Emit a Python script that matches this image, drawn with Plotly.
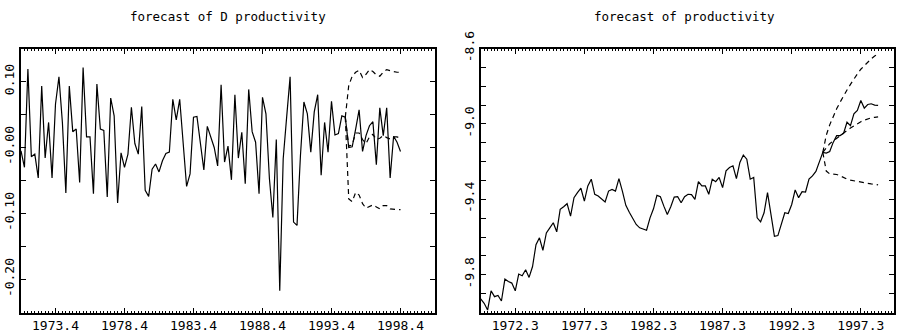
import plotly.graph_objects as go

# ---------------- data ----------------
left_start = (1971, 2)   # first quarter of D productivity series
right_start = (1970, 1)  # first quarter of productivity series
fc_start_period = (1994, 4)

left_actual = [
    -0.005, -0.030, 0.119, -0.014, -0.010, -0.046, 0.093, -0.016, 0.038, -0.046,
    0.066, 0.107, 0.038, -0.069, 0.093, 0.024, 0.028, -0.053, 0.121, 0.016,
    0.016, -0.070, 0.096, 0.028, 0.026, -0.075, 0.075, 0.048, -0.084, -0.008,
    -0.030, -0.010, 0.061, 0.006, -0.010, 0.062, -0.065, -0.074, -0.033, -0.025,
    -0.037, -0.020, -0.009, -0.007, 0.073, 0.042, 0.073, 0.008, -0.059, -0.040,
    0.046, 0.047, 0.003, -0.034, 0.032, 0.016, 0.000, -0.028, 0.095, -0.022,
    0.002, -0.049, 0.080, -0.016, 0.023, -0.055, 0.088, 0.024, 0.008, -0.070,
    0.076, 0.051, -0.047, -0.106, 0.012, -0.217, -0.017, 0.046, 0.107, -0.113,
    -0.118, -0.012, 0.069, 0.051, -0.007, 0.054, 0.080, -0.042, 0.038, -0.007,
    0.070, 0.019, 0.021, 0.048, 0.046, 0.000, 0.001, 0.028, 0.057, -0.006,
    0.018, 0.033, 0.039, -0.026, 0.060, 0.018, 0.060, -0.046, 0.017, 0.008,
    -0.006,
]
left_fc_mid = [0.046, 0.002, 0.004, 0.022, 0.022, 0.012, 0.006, 0.016, 0.020,
               0.012, 0.014, 0.018, 0.015, 0.013, 0.016, 0.016, 0.014]
left_fc_up = [0.046, 0.094, 0.108, 0.114, 0.117, 0.106, 0.111, 0.118, 0.115,
              0.110, 0.108, 0.114, 0.118, 0.116, 0.115, 0.114, 0.114]
left_fc_lo = [0.046, -0.078, -0.082, -0.068, -0.072, -0.085, -0.092, -0.090, -0.087,
              -0.090, -0.093, -0.088, -0.088, -0.093, -0.094, -0.094, -0.094]

right_actual = [
    -9.928, -9.951, -9.987, -9.885, -9.916, -9.910, -9.939, -9.823, -9.836, -9.844,
    -9.885, -9.796, -9.805, -9.773, -9.814, -9.756, -9.640, -9.604, -9.670, -9.578,
    -9.551, -9.524, -9.572, -9.453, -9.439, -9.423, -9.489, -9.391, -9.364, -9.341,
    -9.409, -9.329, -9.293, -9.373, -9.382, -9.400, -9.414, -9.356, -9.347, -9.356,
    -9.290, -9.356, -9.432, -9.468, -9.498, -9.533, -9.551, -9.556, -9.564, -9.498,
    -9.450, -9.379, -9.386, -9.436, -9.480, -9.439, -9.388, -9.386, -9.418, -9.386,
    -9.373, -9.375, -9.400, -9.306, -9.329, -9.329, -9.373, -9.293, -9.306, -9.284,
    -9.338, -9.249, -9.231, -9.222, -9.290, -9.204, -9.165, -9.187, -9.293, -9.284,
    -9.498, -9.519, -9.471, -9.364, -9.480, -9.596, -9.592, -9.524, -9.471, -9.475,
    -9.427, -9.350, -9.391, -9.359, -9.361, -9.293, -9.276, -9.252, -9.204, -9.151,
    -9.155, -9.146, -9.098, -9.062, -9.062, -9.050, -8.991, -9.009, -8.947, -8.929,
    -8.876, -8.916, -8.897, -8.893, -8.900, -8.902,
]
right_fc_mid = [-9.151, -9.125, -9.105, -9.090, -9.075, -9.060, -9.047, -9.035, -9.022,
                -9.010, -8.998, -8.988, -8.980, -8.973, -8.968, -8.965, -8.963]
right_fc_up = [-9.151, -9.060, -9.005, -8.960, -8.920, -8.885, -8.850, -8.820, -8.790,
               -8.760, -8.735, -8.710, -8.690, -8.670, -8.655, -8.640, -8.630]
right_fc_lo = [-9.151, -9.250, -9.265, -9.266, -9.268, -9.275, -9.285, -9.293, -9.298,
               -9.302, -9.305, -9.308, -9.312, -9.315, -9.318, -9.321, -9.323]

left_ticklabels = ["1973.4", "1978.4", "1983.4", "1988.4", "1993.4", "1998.4"]
right_ticklabels = ["1972.3", "1977.3", "1982.3", "1987.3", "1992.3", "1997.3"]
left_ylabels = ["-0.20", "-0.10", "-0.00", "0.10"]
right_ylabels = ["-9.8", "-9.4", "-9.0", "-8.6"]


def qtime(year, q):
    return year + (q - 1) / 4.0


def label_time(lbl):
    y, q = lbl.split(".")
    return qtime(int(y), int(q))


def periods(start, n):
    t0 = qtime(*start)
    return [t0 + 0.25 * k for k in range(n)]


def alias(labels):
    # map plotly's numeric label text to the quarter notation
    out = {}
    for l in labels:
        v = label_time(l)
        out["%g" % v] = l
        out["%.2f" % v] = l
    return out


left_t = periods(left_start, len(left_actual))
right_t = periods(right_start, len(right_actual))
left_fc_t = periods(fc_start_period, len(left_fc_mid))
right_fc_t = periods(fc_start_period, len(right_fc_mid))

# ---------------- figure ----------------
W, H = 900, 332
FONT = "DejaVu Sans Mono"
line_solid = dict(color="black", width=1.2)
line_dash = dict(color="black", width=1.2, dash="5px,4px")

fig = go.Figure()
fig.add_trace(go.Scatter(x=left_t, y=left_actual, mode="lines", line=line_solid,
                         xaxis="x", yaxis="y", showlegend=False, hoverinfo="skip"))
for s in (left_fc_up, left_fc_mid, left_fc_lo):
    fig.add_trace(go.Scatter(x=left_fc_t, y=s, mode="lines", line=line_dash,
                             xaxis="x", yaxis="y", showlegend=False, hoverinfo="skip"))
fig.add_trace(go.Scatter(x=right_t, y=right_actual, mode="lines", line=line_solid,
                         xaxis="x2", yaxis="y2", showlegend=False, hoverinfo="skip"))
for s in (right_fc_up, right_fc_mid, right_fc_lo):
    fig.add_trace(go.Scatter(x=right_fc_t, y=s, mode="lines", line=line_dash,
                             xaxis="x2", yaxis="y2", showlegend=False, hoverinfo="skip"))

ytop_px, ybot_px = 48.5, 312.5
ydom = [(H - ybot_px) / H, (H - ytop_px) / H]

common = dict(showline=True, linewidth=2, linecolor="black", mirror="allticks",
              ticks="inside", tickcolor="black", tickwidth=1, showgrid=False,
              zeroline=False, automargin=False,
              tickfont=dict(family=FONT, size=13, color="black"))

fig.update_layout(
    template="none",
    width=W, height=H, margin=dict(l=0, r=0, t=0, b=0, pad=0, autoexpand=False),
    paper_bgcolor="white", plot_bgcolor="white",
    xaxis=dict(domain=[21 / W, 435 / W], range=[qtime(*left_start), qtime(*left_start) + 30],
               tickmode="linear", tick0=label_time(left_ticklabels[0]), dtick=5,
               tickformat="~g", labelalias=alias(left_ticklabels), ticklen=5, anchor="y",
               minor=dict(ticks="inside", ticklen=2, dtick=0.25, tick0=qtime(*left_start),
                          tickcolor="black", tickwidth=1, showgrid=False), **common),
    yaxis=dict(domain=ydom, range=[-0.25, 0.15], tickmode="array",
               tickvals=[float(v) for v in left_ylabels], ticktext=left_ylabels,
               tickangle=-90, ticklen=5, anchor="x",
               minor=dict(ticks="inside", ticklen=5, dtick=0.05, tick0=0,
                          tickcolor="black", showgrid=False), **common),
    xaxis2=dict(domain=[480.7 / W, 894 / W], range=[qtime(*right_start), qtime(*right_start) + 29.9],
                tickmode="linear", tick0=label_time(right_ticklabels[0]), dtick=5,
                tickformat="~g", labelalias=alias(right_ticklabels), ticklen=5, anchor="y2",
                minor=dict(ticks="inside", ticklen=2, dtick=0.25, tick0=qtime(*right_start),
                           tickcolor="black", tickwidth=1, showgrid=False), **common),
    yaxis2=dict(domain=ydom, range=[-10.0, -8.6], tickmode="array",
                tickvals=[float(v) for v in right_ylabels], ticktext=right_ylabels,
                tickangle=-90, ticklen=5, anchor="x2",
                minor=dict(ticks="inside", ticklen=5, dtick=0.1, tick0=-10.0,
                           tickcolor="black", showgrid=False), **common),
    annotations=[
        dict(text="forecast of D productivity", x=228 / W, y=(H - 16) / H,
             xref="paper", yref="paper", showarrow=False, xanchor="center",
             yanchor="middle", font=dict(family=FONT, size=12.5, color="black")),
        dict(text="forecast of productivity", x=684 / W, y=(H - 16) / H,
             xref="paper", yref="paper", showarrow=False, xanchor="center",
             yanchor="middle", font=dict(family=FONT, size=12.5, color="black")),
    ],
)

fig.write_html("out.html", config={"displayModeBar": False},
               post_script="document.body.style.margin='0';document.body.style.overflow='hidden';")
